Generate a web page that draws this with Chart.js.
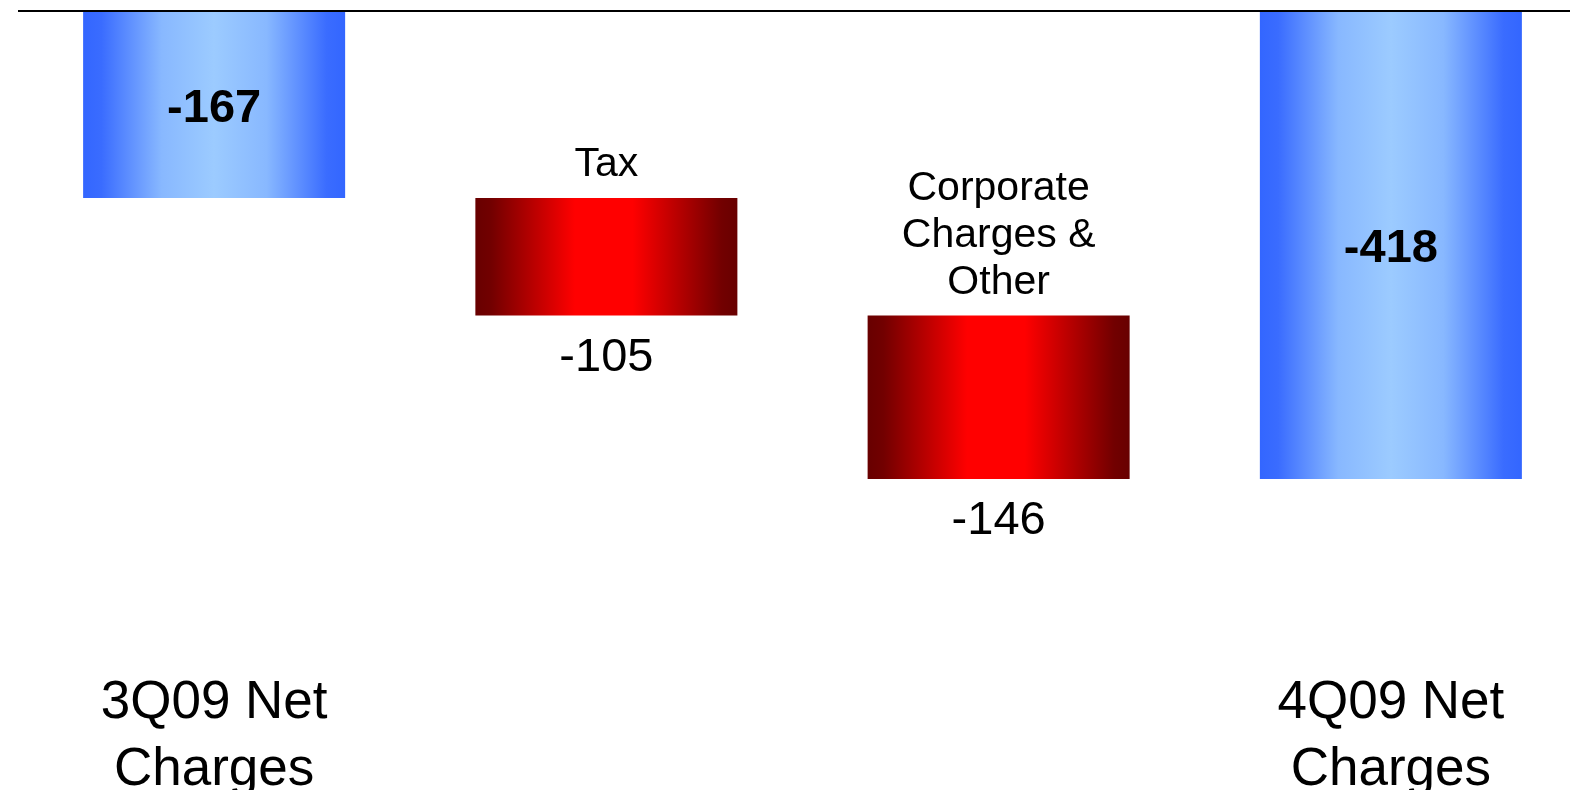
<!DOCTYPE html>
<html>
<head>
<meta charset="utf-8">
<style>
  html, body { margin: 0; padding: 0; background: #ffffff; overflow: hidden; }
  #wrap { width: 1590px; height: 804px; position: relative; }
</style>
<script src="https://cdn.jsdelivr.net/npm/chart.js@4.4.1/dist/chart.umd.min.js"></script>
</head>
<body>
<div id="wrap"><canvas id="c" width="1590" height="804"></canvas></div>
<script>
// Net charges bridge, 3Q09 -> 4Q09
const categories = ['3Q09 Net Charges', 'Tax', 'Corporate Charges & Other', '4Q09 Net Charges'];
const axisLabels = [['3Q09 Net', 'Charges'], '', '', ['4Q09 Net', 'Charges']];
const stepLabels = [[], ['Tax'], ['Corporate', 'Charges &', 'Other'], []];
const values = [-167, -105, -146, -418];
const kinds = ['total', 'step', 'step', 'total'];

// Floating ranges: totals hang from zero, steps continue from the running total
let running = 0;
const ranges = values.map((v, i) => {
  if (kinds[i] === 'total') { running = v; return [0, v]; }
  const r = [running, running + v];
  running += v;
  return r;
});

const FONT = "'Liberation Sans', Arial, Helvetica, sans-serif";
const BAR_PCT = 0.668;

function barFill(ctx) {
  const i = ctx.dataIndex;
  const chart = ctx.chart;
  const isTotal = kinds[i] === 'total';
  if (!chart.chartArea || !chart.scales.x) return isTotal ? '#6699ff' : '#cc0000';
  const xs = chart.scales.x;
  const cx = xs.getPixelForValue(i);
  const w = (xs.width / categories.length) * BAR_PCT;
  const g = chart.ctx.createLinearGradient(cx - w / 2, 0, cx + w / 2, 0);
  if (isTotal) {
    g.addColorStop(0.00, '#3366ff');
    g.addColorStop(0.07, '#3a6cff');
    g.addColorStop(0.30, '#88b8ff');
    g.addColorStop(0.50, '#9ccbff');
    g.addColorStop(0.70, '#88b8ff');
    g.addColorStop(0.93, '#3a6cff');
    g.addColorStop(1.00, '#3366ff');
  } else {
    g.addColorStop(0.00, '#680000');
    g.addColorStop(0.06, '#720000');
    g.addColorStop(0.38, '#ff0000');
    g.addColorStop(0.60, '#ff0000');
    g.addColorStop(0.94, '#720000');
    g.addColorStop(1.00, '#680000');
  }
  return g;
}

// Value and step-name labels on the bars
const barLabels = {
  id: 'barLabels',
  afterDatasetsDraw(chart) {
    const c = chart.ctx;
    const meta = chart.getDatasetMeta(0);
    c.save();
    c.fillStyle = '#000000';
    c.textAlign = 'center';
    c.textBaseline = 'alphabetic';
    meta.data.forEach((bar, i) => {
      const top = Math.min(bar.y, bar.base);
      const bottom = Math.max(bar.y, bar.base);
      const text = String(values[i]);
      if (kinds[i] === 'total') {
        const size = 47;
        c.font = 'bold ' + size + 'px ' + FONT;
        c.fillText(text, bar.x, (top + bottom) / 2 + 0.358 * size);
      } else {
        const nameSize = 41, nameLine = 47;
        c.font = nameSize + 'px ' + FONT;
        const lines = stepLabels[i];
        lines.forEach((ln, k) => {
          c.fillText(ln, bar.x, top - 22 - (lines.length - 1 - k) * nameLine);
        });
        c.font = '47px ' + FONT;
        c.fillText(text, bar.x, bottom + 55);
      }
    });
    c.restore();
  }
};

new Chart(document.getElementById('c'), {
  type: 'bar',
  data: {
    labels: categories,
    datasets: [{
      data: ranges,
      backgroundColor: barFill,
      borderWidth: 0,
      borderSkipped: false,
      barPercentage: BAR_PCT,
      categoryPercentage: 1.0
    }]
  },
  options: {
    responsive: false,
    animation: false,
    layout: { padding: { left: 18, right: 3, top: 11, bottom: 0 } },
    plugins: {
      legend: { display: false },
      tooltip: { enabled: false },
      title: { display: false }
    },
    scales: {
      x: {
        type: 'category',
        offset: true,
        grid: { display: false, drawTicks: false },
        border: { display: false },
        ticks: {
          autoSkip: false,
          maxRotation: 0,
          minRotation: 0,
          padding: 0,
          color: '#000000',
          font: { family: FONT, size: 53, lineHeight: 1.264 },
          callback: (v, i) => axisLabels[i]
        }
      },
      y: {
        min: -588.5,
        max: 0,
        z: 1,
        ticks: { display: false },
        border: { display: false },
        grid: {
          drawTicks: false,
          lineWidth: 2,
          color: (ctx) => (ctx.tick && ctx.tick.value === 0 ? '#000000' : 'rgba(0,0,0,0)')
        }
      }
    }
  },
  plugins: [barLabels]
});
</script>
</body>
</html>
